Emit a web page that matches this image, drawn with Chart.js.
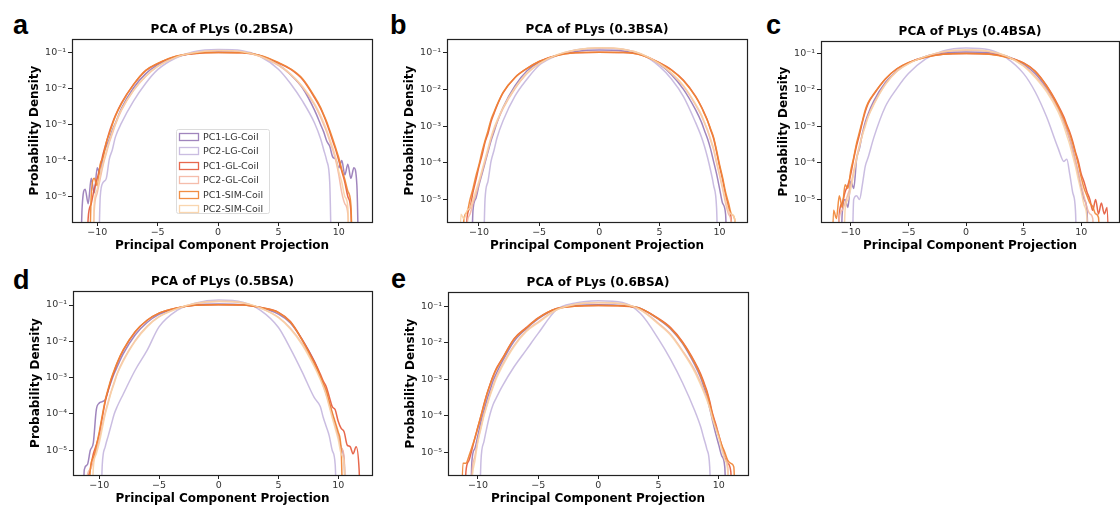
<!DOCTYPE html>
<html>
<head>
<meta charset="utf-8">
<script src="https://cdn.jsdelivr.net/npm/chart.js@4.4.0/dist/chart.umd.min.js"></script>
<style>
  body { margin: 0; background: #fff; width: 1120px; height: 509px; overflow: hidden; position: relative; }
  canvas { position: absolute; }
  .tag { position: absolute; font: bold 27px 'Liberation Sans', Arial, sans-serif; line-height: 27px; color: #000; }
</style>
</head>
<body>
<div class="tag" style="left:13px;top:12px">a</div>
<div class="tag" style="left:390px;top:12px">b</div>
<div class="tag" style="left:766px;top:12px">c</div>
<div class="tag" style="left:13px;top:267px">d</div>
<div class="tag" style="left:391px;top:266px">e</div>
<canvas id="chartA"></canvas>
<canvas id="chartB"></canvas>
<canvas id="chartC"></canvas>
<canvas id="chartD"></canvas>
<canvas id="chartE"></canvas>
<script>
// Projection grid (bin positions, shared by all panels; finer in the tails)
const projection = [-12,-11.75,-11.5,-11.25,-11,-10.75,-10.5,-10.25,-10,-9.75,-9.5,-9.25,-9,-8.75,-8.5,
  -8,-7,-6,-5,-3.5,-2,0,2,3.5,5,6,7,8,
  8.5,8.75,9,9.25,9.5,9.75,10,10.25,10.5,10.75,11,11.25,11.5,11.75,12,12.25,12.5];

const seriesNames = ['PC1-LG-Coil', 'PC2-LG-Coil', 'PC1-GL-Coil', 'PC2-GL-Coil', 'PC1-SIM-Coil', 'PC2-SIM-Coil'];
const seriesColors = ['rgba(150,120,182,0.9)', 'rgba(196,182,222,0.9)', 'rgba(228,88,58,0.9)', 'rgba(244,182,162,0.9)', 'rgba(240,132,52,0.92)', 'rgba(248,210,166,0.9)'];

const xTicks = [-10, -5, 0, 5, 10];
const yTicks = [1e-5, 1e-4, 1e-3, 1e-2, 1e-1];
const yTickLabels = ['10\u207B\u2075', '10\u207B\u2074', '10\u207B\u00B3', '10\u207B\u00B2', '10\u207B\u00B9'];

// 0.2BSA
const a_pc1LG  = [1e-8,1e-8,1e-8,5e-6,1.6e-5,6.3e-6,3.2e-5,1.26e-5,6.3e-5,4e-5,1.4e-4,2.5e-4,4e-4,7e-4,1.1e-3, 2.8e-3,1.05e-2,2.6e-2,4.6e-2,7.6e-2,9.8e-2,1.1e-1,1.05e-1,8.3e-2,4.7e-2,2.5e-2,1.05e-2,2.5e-3, 1e-3,6.3e-4,3.5e-4,2.5e-4,1.26e-4,1.1e-4,6.3e-5,1e-4,4e-5,7.9e-5,3.2e-5,6.3e-5,2e-5,1e-8,1e-8,1e-8,1e-8];
const a_pc2LG  = [1e-8,1e-8,1e-8,1e-8,1e-8,1e-8,1e-8,1e-8,1e-8,1e-5,2.5e-5,3.2e-5,1.1e-4,2e-4,4.5e-4, 1.1e-3,4.5e-3,1.4e-2,3.4e-2,7.2e-2,1.07e-1,1.23e-1,1.15e-1,7.9e-2,3.5e-2,1.4e-2,4.5e-3,1.1e-3, 4e-4,2e-4,1e-4,2.5e-5,1e-8,1e-8,1e-8,1e-8,1e-8,1e-8,1e-8,1e-8,1e-8,1e-8,1e-8,1e-8,1e-8];
const a_pc1GL  = [1e-8,1e-8,1e-8,1e-8,1e-8,2.5e-6,6.3e-6,1.6e-5,3.2e-5,7e-5,1.6e-4,3.2e-4,6.3e-4,1.1e-3,1.8e-3, 4e-3,1.3e-2,3.2e-2,5e-2,7.9e-2,9.5e-2,1.02e-1,1e-1,8.3e-2,5.2e-2,3.5e-2,1.8e-2,5.6e-3, 2.8e-3,1.8e-3,1.1e-3,6.3e-4,3.5e-4,2e-4,1e-4,5e-5,2.5e-5,1e-5,4e-6,1e-8,1e-8,1e-8,1e-8,1e-8,1e-8];
const a_pc2GL  = [1e-8,1e-8,1e-8,1e-8,1e-8,1e-8,1e-8,4e-6,1.26e-5,3.2e-5,7.9e-5,1.6e-4,3.2e-4,5.6e-4,1e-3, 2.5e-3,8.9e-3,2.2e-2,4.2e-2,7.6e-2,1e-1,1.15e-1,1.07e-1,7.9e-2,4.5e-2,2.5e-2,1.1e-2,3.5e-3, 1.6e-3,1e-3,6.3e-4,3.5e-4,2e-4,1e-4,4e-5,1.26e-5,6.3e-6,3.2e-6,1e-8,1e-8,1e-8,1e-8,1e-8,1e-8,1e-8];
const a_pc1SIM = [1e-8,1e-8,1e-8,1e-8,1e-8,1e-8,1e-5,3.2e-5,2e-5,7.9e-5,1.26e-4,3.2e-4,5.6e-4,1e-3,1.7e-3, 3.8e-3,1.3e-2,3.2e-2,5.1e-2,8e-2,9.6e-2,1.02e-1,1e-1,8.5e-2,5.4e-2,3.6e-2,1.9e-2,6e-3, 3e-3,1.9e-3,1.2e-3,7e-4,4e-4,2.2e-4,1.2e-4,5.6e-5,3e-5,1.4e-5,6e-6,1e-8,1e-8,1e-8,1e-8,1e-8,1e-8];
const a_pc2SIM = [1e-8,1e-8,1e-8,1e-8,1e-8,1e-8,1e-8,6.3e-6,1.6e-5,4e-5,9e-5,1.8e-4,3.5e-4,6.3e-4,1.05e-3, 2.6e-3,9e-3,2.2e-2,4.2e-2,7.5e-2,1e-1,1.16e-1,1.08e-1,8e-2,4.6e-2,2.6e-2,1.15e-2,3.8e-3, 1.8e-3,1.15e-3,7e-4,4e-4,2.3e-4,1.2e-4,5e-5,2.5e-5,1e-5,5e-6,1e-8,1e-8,1e-8,1e-8,1e-8,1e-8,1e-8];

// 0.3BSA
const b_pc1LG  = [1e-8,1e-8,1e-8,1e-8,1e-8,1e-8,5e-6,1.1e-5,2.5e-5,5e-5,1e-4,2e-4,4e-4,7e-4,1.26e-3, 3.2e-3,1.26e-2,3.2e-2,5.4e-2,8.5e-2,1.07e-1,1.17e-1,1.1e-1,8.9e-2,4.8e-2,2.5e-2,1e-2,2.8e-3, 1.26e-3,7.5e-4,4.5e-4,2.4e-4,1.1e-4,5e-5,2e-5,8e-6,4e-6,1e-8,1e-8,1e-8,1e-8,1e-8,1e-8,1e-8,1e-8];
const b_pc2LG  = [1e-8,1e-8,1e-8,1e-8,1e-8,1e-8,1e-8,1e-8,1e-8,1e-8,1e-5,3.2e-5,1.1e-4,2.2e-4,4.8e-4, 1.4e-3,6.6e-3,1.9e-2,4.5e-2,8.3e-2,1.17e-1,1.3e-1,1.2e-1,8.9e-2,4.2e-2,1.9e-2,6.3e-3,1.26e-3, 5e-4,2.8e-4,1.4e-4,6.3e-5,2.5e-5,6e-6,1e-8,1e-8,1e-8,1e-8,1e-8,1e-8,1e-8,1e-8,1e-8,1e-8,1e-8];
const b_pc1GL  = [1e-8,1e-8,1e-8,1e-8,3e-6,6e-6,1.6e-5,3.5e-5,8e-5,1.6e-4,3.6e-4,6.3e-4,1.3e-3,2.2e-3,3.6e-3, 8e-3,2.1e-2,3.7e-2,5.7e-2,8.4e-2,9.8e-2,1.02e-1,1e-1,8.6e-2,5.3e-2,3.4e-2,1.75e-2,6.5e-3, 3.3e-3,2.2e-3,1.4e-3,8e-4,4.6e-4,2e-4,8e-5,3.5e-5,1.3e-5,6e-6,2e-6,1e-8,1e-8,1e-8,1e-8,1e-8,1e-8];
const b_pc2GL  = [1e-8,1e-8,1e-8,1e-8,2e-6,4e-6,8e-6,1.4e-5,2.8e-5,5.6e-5,1.1e-4,2.2e-4,4.5e-4,8e-4,1.3e-3, 3e-3,1.05e-2,2.7e-2,4.9e-2,8.6e-2,1.16e-1,1.33e-1,1.22e-1,9e-2,4.9e-2,2.7e-2,1.2e-2,3.8e-3, 1.9e-3,1.2e-3,7.5e-4,4.2e-4,2.3e-4,1e-4,4.5e-5,2e-5,8e-6,4e-6,2e-6,1e-8,1e-8,1e-8,1e-8,1e-8,1e-8];
const b_pc1SIM = [1e-8,1e-8,1e-8,3e-6,4.5e-6,1e-5,2e-5,4.5e-5,8.9e-5,2e-4,4e-4,7.5e-4,1.5e-3,2.4e-3,3.8e-3, 8.3e-3,2.1e-2,3.7e-2,5.7e-2,8.3e-2,9.8e-2,1.02e-1,1e-1,8.5e-2,5.2e-2,3.3e-2,1.7e-2,6.3e-3, 3.2e-3,2.1e-3,1.4e-3,8.5e-4,5e-4,2.2e-4,8.9e-5,4e-5,1.6e-5,8e-6,4e-6,3e-6,1e-8,1e-8,1e-8,1e-8,1e-8];
const b_pc2SIM = [1e-8,1e-8,4e-6,3e-6,5e-6,6e-6,1e-5,1.8e-5,3.2e-5,6.3e-5,1.26e-4,2.5e-4,5e-4,8.9e-4,1.4e-3, 3.2e-3,1.1e-2,2.8e-2,5e-2,8.7e-2,1.17e-1,1.35e-1,1.23e-1,9.1e-2,5e-2,2.8e-2,1.26e-2,4e-3, 2e-3,1.26e-3,7.9e-4,4.5e-4,2.5e-4,1.1e-4,5e-5,2.2e-5,1e-5,5e-6,4e-6,3e-6,1e-8,1e-8,1e-8,1e-8,1e-8];

// 0.4BSA
const c_pc1LG  = [1e-8,1e-8,1e-8,1e-8,1e-8,4e-6,1e-5,6e-6,3.2e-5,2e-5,1.26e-4,2.5e-4,6.3e-4,1.3e-3,2.2e-3, 5e-3,1.6e-2,3.3e-2,5.4e-2,8.3e-2,1.02e-1,1.1e-1,1.05e-1,8.5e-2,5e-2,2.8e-2,1.1e-2,3.2e-3, 1.26e-3,8e-4,4.5e-4,2.4e-4,1.1e-4,5e-5,2e-5,1e-5,5e-6,1e-8,1e-8,1e-8,1e-8,1e-8,1e-8,1e-8,1e-8];
const c_pc2LG  = [1e-8,1e-8,1e-8,1e-8,1e-8,1e-8,1e-8,1e-8,1e-8,1e-5,1.26e-5,1e-5,2.5e-5,8e-5,1.4e-4, 5e-4,3.5e-3,1.1e-2,2.8e-2,7.1e-2,1.17e-1,1.41e-1,1.26e-1,7.6e-2,2.8e-2,8.9e-3,1.8e-3,2.5e-4, 1.1e-4,1.26e-4,5e-5,1.6e-5,5e-6,1e-8,1e-8,1e-8,1e-8,1e-8,1e-8,1e-8,1e-8,1e-8,1e-8,1e-8,1e-8];
const c_pc1GL  = [1e-8,1e-8,1e-8,1e-8,4e-6,8e-6,1.6e-5,2.5e-5,5e-5,1.3e-4,3e-4,6e-4,1.3e-3,2.5e-3,4.2e-3, 7.6e-3,2e-2,3.8e-2,5.6e-2,8e-2,9.5e-2,1e-1,9.6e-2,8e-2,5.5e-2,3.3e-2,1.3e-2,3.8e-3, 1.8e-3,1.1e-3,7e-4,4e-4,2e-4,1.1e-4,5e-5,3e-5,1.6e-5,1e-5,5e-6,1e-5,4e-6,8e-6,4e-6,6e-6,1e-8];
const c_pc2GL  = [1e-8,1e-8,1e-8,1e-8,3e-6,5e-6,8e-6,1.4e-5,2.5e-5,6e-5,1.4e-4,3e-4,6e-4,1.1e-3,1.9e-3, 4.2e-3,1.45e-2,3.3e-2,5.3e-2,8.3e-2,1.1e-1,1.22e-1,1.12e-1,8.4e-2,4.6e-2,2.4e-2,1e-2,3e-3, 1.3e-3,7.5e-4,4.5e-4,2.2e-4,1.1e-4,5e-5,2.5e-5,1.2e-5,6e-6,4e-6,3e-6,1e-8,1e-8,1e-8,1e-8,1e-8,1e-8];
const c_pc1SIM = [1e-8,1e-8,5e-6,3e-6,1.26e-5,6e-6,2.5e-5,2e-5,6.3e-5,1.4e-4,3.5e-4,7e-4,1.4e-3,2.8e-3,4.5e-3, 7.9e-3,2e-2,3.8e-2,5.6e-2,7.9e-2,9.5e-2,1e-1,9.5e-2,7.9e-2,5.4e-2,3.2e-2,1.26e-2,3.5e-3, 1.6e-3,1e-3,6.3e-4,3.5e-4,1.8e-4,9e-5,4e-5,2e-5,1.26e-5,8e-6,6.3e-6,4e-6,3.2e-6,1e-8,1e-8,1e-8,1e-8];
const c_pc2SIM = [1e-8,1e-8,1e-8,1e-8,1e-8,1e-8,5e-6,1e-5,2e-5,5e-5,1.26e-4,2.8e-4,5.6e-4,1e-3,1.8e-3, 4e-3,1.4e-2,3.2e-2,5.2e-2,8.3e-2,1.12e-1,1.26e-1,1.15e-1,8.5e-2,4.5e-2,2.2e-2,8.9e-3,2.5e-3, 1e-3,5.6e-4,3.2e-4,1.6e-4,7.9e-5,3.5e-5,1.6e-5,7e-6,3e-6,1e-8,1e-8,1e-8,1e-8,1e-8,1e-8,1e-8,1e-8];

// 0.5BSA
const d_pc1LG  = [1e-8,1e-8,1e-8,3e-6,4e-6,1e-5,1.6e-5,1.3e-4,2e-4,2.2e-4,2.5e-4,4.5e-4,7.9e-4,1.3e-3,2e-3, 4.5e-3,1.5e-2,3.3e-2,5.5e-2,8.1e-2,1e-1,1.07e-1,1.02e-1,8.5e-2,5.6e-2,3.2e-2,1.1e-2,2.8e-3, 1.1e-3,6.3e-4,3.5e-4,2e-4,1e-4,5e-5,2.5e-5,1.2e-5,5e-6,1e-8,1e-8,1e-8,1e-8,1e-8,1e-8,1e-8,1e-8];
const d_pc2LG  = [1e-8,1e-8,1e-8,1e-8,1e-8,1e-8,1e-8,1e-8,1e-8,4e-6,1.26e-5,2.5e-5,5e-5,1e-4,1.6e-4, 3.5e-4,1.6e-3,5.6e-3,2.5e-2,7.1e-2,1.12e-1,1.38e-1,1.2e-1,7.1e-2,2.4e-2,6.3e-3,1.4e-3,2.8e-4, 1.6e-4,8e-5,4.5e-5,2.5e-5,1e-5,4e-6,1e-8,1e-8,1e-8,1e-8,1e-8,1e-8,1e-8,1e-8,1e-8,1e-8,1e-8];
const d_pc1GL  = [1e-8,1e-8,1e-8,1e-8,1e-6,3e-6,7.9e-6,1.4e-5,2.8e-5,8e-5,2.2e-4,4.5e-4,8.9e-4,1.5e-3,2.5e-3, 5.6e-3,1.8e-2,3.8e-2,6e-2,8.3e-2,9.8e-2,1.02e-1,1e-1,8.5e-2,6.3e-2,3.5e-2,1.1e-2,2.8e-3, 1.26e-3,8e-4,5.6e-4,3e-4,1.6e-4,1.3e-4,6.3e-5,4e-5,3.2e-5,1.4e-5,1.26e-5,8e-6,1.26e-5,3e-6,1e-8,1e-8,1e-8];
const d_pc2GL  = [1e-8,1e-8,1e-8,1e-8,2e-6,3e-6,5e-6,1e-5,2e-5,5e-5,1.1e-4,2.2e-4,4.2e-4,7.5e-4,1.3e-3, 3e-3,1.05e-2,2.6e-2,4.8e-2,8e-2,1.09e-1,1.24e-1,1.13e-1,8.2e-2,4.6e-2,2.3e-2,8.5e-3,2.2e-3, 1e-3,6e-4,3.6e-4,1.8e-4,9e-5,5e-5,2.5e-5,1.2e-5,6e-6,1e-8,1e-8,1e-8,1e-8,1e-8,1e-8,1e-8,1e-8];
const d_pc1SIM = [1e-8,1e-8,1e-8,1e-8,1e-8,3e-6,6.3e-6,1.3e-5,3.2e-5,9e-5,2.4e-4,5e-4,9.5e-4,1.6e-3,2.6e-3, 5.8e-3,1.85e-2,3.8e-2,6e-2,8.3e-2,9.8e-2,1.02e-1,1e-1,8.5e-2,6.2e-2,3.4e-2,1.05e-2,2.5e-3, 1.1e-3,7e-4,4.5e-4,2.2e-4,1.1e-4,6e-5,3.2e-5,1e-5,1e-8,1e-8,1e-8,1e-8,1e-8,1e-8,1e-8,1e-8,1e-8];
const d_pc2SIM = [1e-8,1e-8,1e-8,1e-8,1e-8,1e-8,3.2e-6,8e-6,1.6e-5,4e-5,1e-4,2e-4,4e-4,7e-4,1.26e-3, 2.8e-3,1e-2,2.5e-2,4.7e-2,7.9e-2,1.1e-1,1.26e-1,1.15e-1,8.3e-2,4.5e-2,2.2e-2,7.9e-3,2e-3, 8.9e-4,5.6e-4,3.2e-4,1.6e-4,7.9e-5,4e-5,2e-5,8e-6,4e-6,1e-8,1e-8,1e-8,1e-8,1e-8,1e-8,1e-8,1e-8];

// 0.6BSA
const e_pc1LG  = [1e-8,1e-8,1e-8,1e-8,1e-8,1e-8,6e-6,1.3e-5,3e-5,7e-5,1.4e-4,2.8e-4,5e-4,9e-4,1.4e-3, 3e-3,1.1e-2,2.4e-2,4.5e-2,8.5e-2,1.03e-1,1.1e-1,1.05e-1,8.7e-2,4.4e-2,2.4e-2,9.5e-3,2.5e-3, 1.1e-3,6.3e-4,3.5e-4,1.6e-4,7e-5,3.2e-5,1.6e-5,8e-6,4e-6,1e-8,1e-8,1e-8,1e-8,1e-8,1e-8,1e-8,1e-8];
const e_pc2LG  = [1e-8,1e-8,1e-8,1e-8,1e-8,1e-8,1e-8,1e-8,1e-8,6e-6,2e-5,5e-5,1.1e-4,2e-4,3e-4, 6.3e-4,2.2e-3,6.3e-3,1.8e-2,7.9e-2,1.2e-1,1.41e-1,1.26e-1,6.3e-2,1.26e-2,3.5e-3,7.9e-4,1.4e-4, 5e-5,2.5e-5,1.26e-5,4e-6,1e-8,1e-8,1e-8,1e-8,1e-8,1e-8,1e-8,1e-8,1e-8,1e-8,1e-8,1e-8,1e-8];
const e_pc1GL  = [1e-8,1e-8,1e-8,1e-8,3e-6,6e-6,1.2e-5,2.5e-5,5e-5,1e-4,2.1e-4,4e-4,7.2e-4,1.2e-3,1.9e-3, 3.6e-3,1.3e-2,2.6e-2,4.8e-2,8.5e-2,1e-1,1.04e-1,1.01e-1,8.6e-2,4.6e-2,2.6e-2,1.05e-2,3e-3, 1.4e-3,8.5e-4,5e-4,2.5e-4,1.1e-4,6e-5,3e-5,1.5e-5,8e-6,5e-6,3e-6,1e-8,1e-8,1e-8,1e-8,1e-8,1e-8];
const e_pc2GL  = [1e-8,1e-8,1e-8,1e-8,1e-8,1e-8,2.5e-6,8e-6,2.2e-5,5e-5,1.1e-4,2e-4,3.8e-4,6.5e-4,1.1e-3, 2.4e-3,8.5e-3,2.1e-2,3.7e-2,8e-2,1.12e-1,1.25e-1,1.16e-1,8e-2,3.4e-2,1.7e-2,6e-3,1.8e-3, 8e-4,5e-4,3.2e-4,1.8e-4,9e-5,5e-5,3e-5,1.5e-5,8e-6,4e-6,1e-8,1e-8,1e-8,1e-8,1e-8,1e-8,1e-8];
const e_pc1SIM = [1e-8,1e-8,1e-8,5e-6,5e-6,8e-6,1.4e-5,2.5e-5,5e-5,1e-4,2e-4,4e-4,7e-4,1.2e-3,1.8e-3, 3.5e-3,1.26e-2,2.5e-2,4.7e-2,8.5e-2,1e-1,1.05e-1,1.02e-1,8.7e-2,4.5e-2,2.5e-2,1e-2,2.8e-3, 1.26e-3,7.5e-4,4.5e-4,2.2e-4,1e-4,5e-5,2.8e-5,1.6e-5,1e-5,6e-6,5e-6,4e-6,1e-8,1e-8,1e-8,1e-8,1e-8];
const e_pc2SIM = [1e-8,1e-8,1e-8,1e-8,1e-8,1e-8,1.6e-6,6e-6,2e-5,4.5e-5,1e-4,1.9e-4,3.5e-4,6e-4,1e-3, 2.2e-3,7.9e-3,2e-2,3.5e-2,7.9e-2,1.12e-1,1.26e-1,1.17e-1,7.9e-2,3.2e-2,1.6e-2,5.6e-3,1.6e-3, 7e-4,4.5e-4,2.8e-4,1.6e-4,7.9e-5,4.5e-5,2.5e-5,1.2e-5,6.3e-6,3e-6,1e-8,1e-8,1e-8,1e-8,1e-8,1e-8,1e-8];

// panel layout: plot box [left, top, right, bottom] in page pixels, axis limits
const panels = [
  { id: 'chartA', title: 'PCA of PLys (0.2BSA)', box: [72, 39, 372, 222], xr: [-12.09, 12.75], yr: [1.95e-6, 0.243], series: [a_pc1LG, a_pc2LG, a_pc1GL, a_pc2GL, a_pc1SIM, a_pc2SIM], legend: true },
  { id: 'chartB', title: 'PCA of PLys (0.3BSA)', box: [447, 39, 747, 222], xr: [-12.66, 12.28], yr: [2.47e-6, 0.233], series: [b_pc1LG, b_pc2LG, b_pc1GL, b_pc2GL, b_pc1SIM, b_pc2SIM] },
  { id: 'chartC', title: 'PCA of PLys (0.4BSA)', box: [821, 41, 1119, 222], xr: [-12.59, 13.28], yr: [2.4e-6, 0.219], series: [c_pc1LG, c_pc2LG, c_pc1GL, c_pc2GL, c_pc1SIM, c_pc2SIM] },
  { id: 'chartD', title: 'PCA of PLys (0.5BSA)', box: [73, 291, 372, 475], xr: [-12.2, 12.83], yr: [2.09e-6, 0.243], series: [d_pc1LG, d_pc2LG, d_pc1GL, d_pc2GL, d_pc1SIM, d_pc2SIM] },
  { id: 'chartE', title: 'PCA of PLys (0.6BSA)', box: [448, 292, 748, 475], xr: [-12.49, 12.43], yr: [2.4e-6, 0.245], series: [e_pc1LG, e_pc2LG, e_pc1GL, e_pc2GL, e_pc1SIM, e_pc2SIM] }
];

const Y_AXIS_W = 45, TITLE_H = 16, X_AXIS_H = 34, RIGHT_PAD = 2;

Chart.defaults.font.family = "'DejaVu Sans', sans-serif";

// black box round the plot area
const frame = {
  id: 'frame',
  afterDatasetsDraw(chart) {
    const { ctx, chartArea: a } = chart;
    ctx.save();
    ctx.strokeStyle = '#222';
    ctx.lineWidth = 1.2;
    ctx.strokeRect(a.left + 0.5, a.top + 0.5, a.right - a.left, a.bottom - a.top);
    ctx.restore();
  }
};

// matplotlib-like legend box inside the plot
const boxLegend = {
  id: 'boxLegend',
  afterDraw(chart, args, opts) {
    if (!opts.show) return;
    const { ctx, chartArea } = chart;
    const x = chartArea.left + opts.left, y = chartArea.top + opts.top;
    ctx.save();
    ctx.fillStyle = 'rgba(255,255,255,0.8)';
    ctx.strokeStyle = '#dcdcdc';
    ctx.lineWidth = 1;
    ctx.beginPath();
    ctx.roundRect(x + 0.5, y + 0.5, opts.width, opts.height, 2);
    ctx.fill();
    ctx.stroke();
    ctx.font = "9.5px 'DejaVu Sans'";
    ctx.textBaseline = 'middle';
    chart.data.datasets.forEach((ds, i) => {
      const cy = Math.round(y + opts.first + i * opts.step);
      ctx.strokeStyle = ds.borderColor;
      ctx.lineWidth = 1.3;
      ctx.strokeRect(x + 3.5, cy - 3.5, 19, 7);
      ctx.fillStyle = '#333';
      ctx.fillText(ds.label, x + 27, cy + 0.5);
    });
    ctx.restore();
  }
};

panels.forEach(p => {
  const [l, t, r, b] = p.box;
  const canvas = document.getElementById(p.id);
  canvas.width = r - l + Y_AXIS_W + RIGHT_PAD;
  canvas.height = b - t + TITLE_H + X_AXIS_H;
  canvas.style.left = (l - Y_AXIS_W) + 'px';
  canvas.style.top = (t - TITLE_H) + 'px';

  const datasets = p.series.map((vals, i) => ({
    label: seriesNames[i],
    data: projection.map((x, j) => ({ x: x, y: vals[j] })),
    borderColor: seriesColors[i],
    borderWidth: 1.5,
    pointRadius: 0,
    fill: false,
    cubicInterpolationMode: 'monotone',
    clip: 0,
    order: 6 - i
  }));

  new Chart(canvas, {
    type: 'line',
    data: { datasets },
    options: {
      responsive: false,
      animation: false,
      events: [],
      layout: { padding: { left: 0, top: 0, right: RIGHT_PAD, bottom: 0 } },
      plugins: {
        legend: { display: false },
        tooltip: { enabled: false },
        title: {
          display: true,
          text: p.title,
          fullSize: false,
          color: '#000',
          font: { size: 12, weight: 'bold' },
          padding: { top: 0, bottom: 1.6 }
        },
        boxLegend: { show: !!p.legend, left: 104, top: 90, width: 93, height: 84, first: 8, step: 14.4 }
      },
      scales: {
        x: {
          type: 'linear',
          min: p.xr[0],
          max: p.xr[1],
          afterBuildTicks: s => { s.ticks = xTicks.map(v => ({ value: v })); },
          afterFit: s => { s.height = X_AXIS_H; },
          ticks: {
            color: '#333',
            font: { size: 9.5 },
            padding: 1,
            maxRotation: 0,
            autoSkip: false,
            includeBounds: false,
            callback: v => v < 0 ? '\u2212' + Math.abs(v) : String(v)
          },
          grid: { display: true, drawOnChartArea: false, drawTicks: true, tickLength: 4, color: '#222' },
          border: { display: false },
          title: {
            display: true,
            text: 'Principal Component Projection',
            color: '#000',
            font: { size: 12, weight: 'bold' },
            padding: { top: 0, bottom: 3 }
          }
        },
        y: {
          type: 'logarithmic',
          min: p.yr[0],
          max: p.yr[1],
          afterBuildTicks: s => { s.ticks = yTicks.map(v => ({ value: v })); },
          afterFit: s => { s.width = Y_AXIS_W; },
          ticks: {
            color: '#333',
            font: { size: 9.5 },
            padding: 2,
            autoSkip: false,
            callback: (v, i) => yTickLabels[i]
          },
          grid: { display: true, drawOnChartArea: false, drawTicks: true, tickLength: 4, color: '#222' },
          border: { display: false },
          title: {
            display: true,
            text: 'Probability Density',
            color: '#000',
            font: { size: 12, weight: 'bold' },
            padding: { top: 1, bottom: 0 }
          }
        }
      }
    },
    plugins: [frame, boxLegend]
  });
});
</script>
</body>
</html>
